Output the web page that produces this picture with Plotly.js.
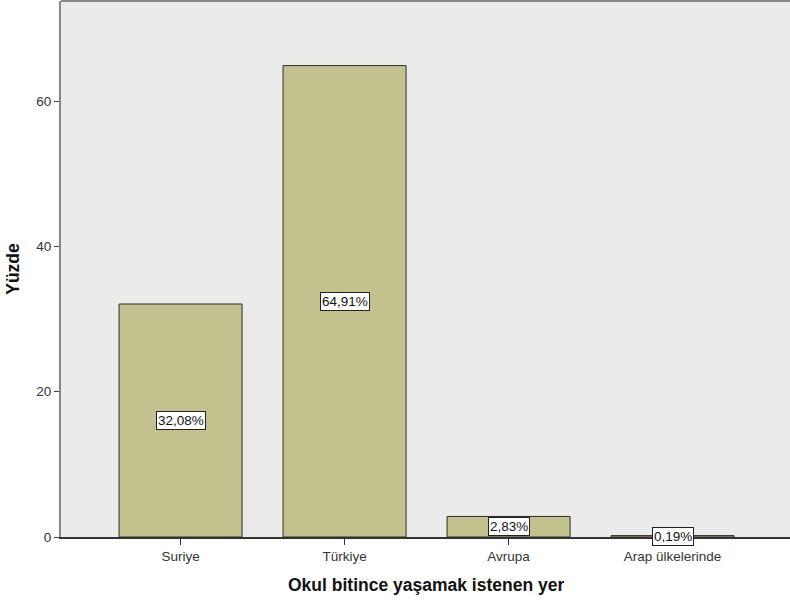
<!DOCTYPE html>
<html><head><meta charset="utf-8">
<script src="https://cdn.plot.ly/plotly-3.0.1.min.js"></script>
<style>html,body{margin:0;padding:0;background:#fff}</style>
</head><body>
<div id="chart" style="width:790px;height:600px"></div>
<script>
const categories = ["Suriye", "Türkiye", "Avrupa", "Arap ülkelerinde"];
const values = [32.08, 64.91, 2.83, 0.19];
const labels = ["32,08%", "64,91%", "2,83%", "0,19%"];
const yTicks = [0, 20, 40, 60];

const FONT = "Liberation Sans, Arial, sans-serif";

const trace = {
  type: "bar",
  x: categories,
  y: values,
  width: 0.75,
  marker: {color: "#c3c28f", line: {color: "#2a2a2a", width: 1}},
  hoverinfo: "none"
};

const annotations = categories.map((c, i) => ({
  x: c, y: values[i] / 2, xref: "x", yref: "y",
  text: labels[i], showarrow: false,
  font: {family: FONT, size: 13.5, color: "#111"},
  bgcolor: "#ffffff", bordercolor: "#222", borderwidth: 1, borderpad: 1
}));
annotations.push({
  xref: "paper", yref: "paper", x: 0.5, y: -0.068,
  xanchor: "center", yanchor: "top", showarrow: false,
  text: "<b>Okul bitince yaşamak istenen yer</b>",
  font: {family: FONT, size: 17.5, color: "#111"}
});

const layout = {
  width: 790, height: 600,
  margin: {l: 61, r: 0, t: 1, b: 63},
  paper_bgcolor: "#ffffff",
  plot_bgcolor: "#ebebea",
  showlegend: false,
  xaxis: {
    range: [-0.729, 3.716],
    showgrid: false, zeroline: false,
    showline: true, linecolor: "#333", linewidth: 1.5,
    ticks: "outside", ticklen: 6, tickcolor: "#333",
    tickfont: {family: FONT, size: 13.5, color: "#333"},
    fixedrange: true
  },
  yaxis: {
    range: [0, 73.8],
    tickvals: yTicks, ticktext: yTicks.map(String),
    showgrid: false, zeroline: false,
    showline: true, linecolor: "#888", linewidth: 2, mirror: false,
    ticks: "outside", ticklen: 5, tickcolor: "#444",
    tickfont: {family: FONT, size: 13.5, color: "#333"},
    title: {text: "<b>Yüzde</b>", standoff: 12,
      font: {family: FONT, size: 17.5, color: "#111"}},
    fixedrange: true
  },
  annotations: annotations,
  shapes: [{type: "line", xref: "paper", yref: "paper", x0: 0, x1: 1, y0: 1, y1: 1,
    line: {color: "#888", width: 2}}]
};

Plotly.newPlot("chart", [trace], layout, {displayModeBar: false, staticPlot: true});
</script>
</body></html>
